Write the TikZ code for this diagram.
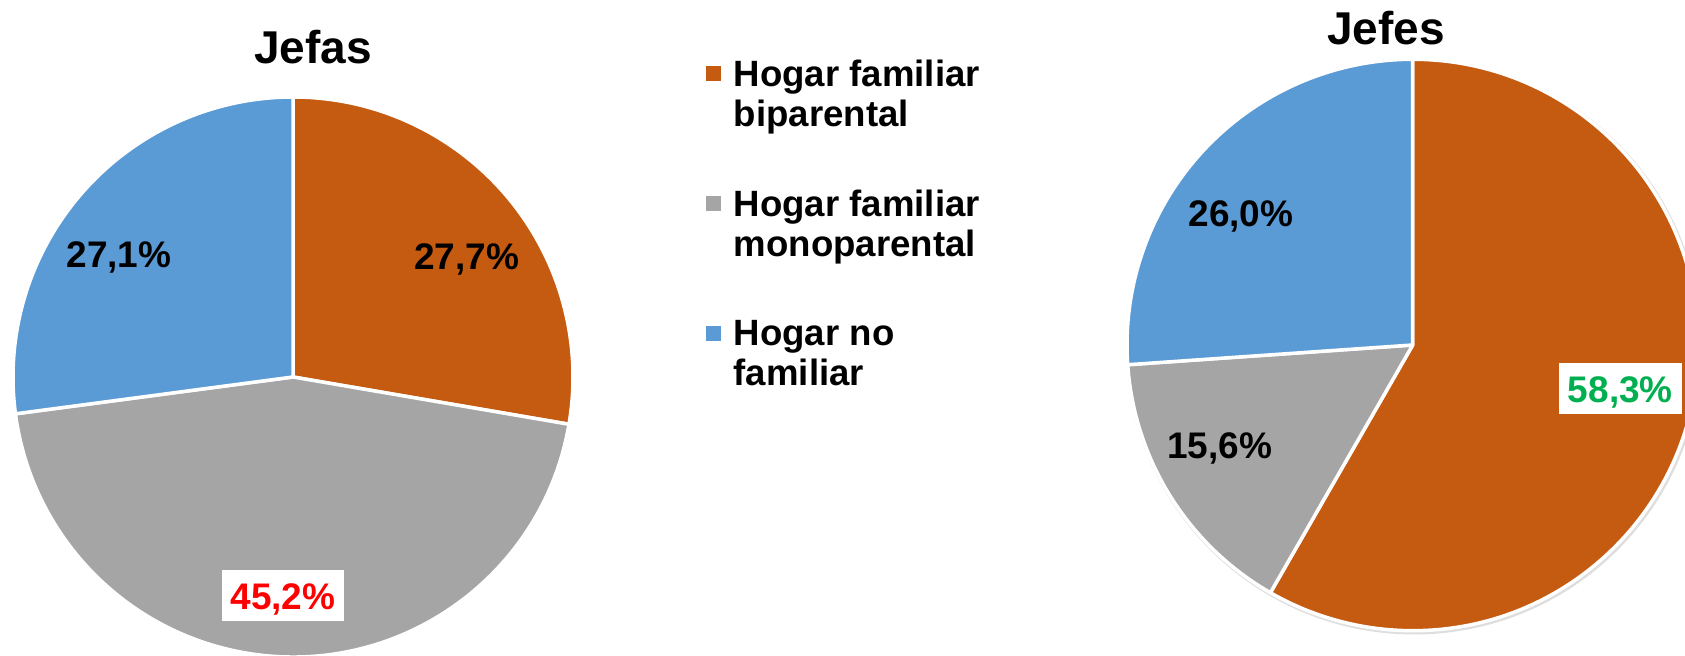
\documentclass[tikz,border=0pt]{standalone}
\usepackage{fontspec}
\setmainfont{Liberation Sans}
\usepackage{xcolor}
\usetikzlibrary{positioning}
\definecolor{sliceorange}{RGB}{197,90,17}
\definecolor{slicegray}{RGB}{165,165,165}
\definecolor{sliceblue}{RGB}{91,155,213}
\definecolor{labred}{RGB}{255,0,0}
\definecolor{labgreen}{RGB}{0,176,80}
\definecolor{shadowgray}{RGB}{222,222,222}
\tikzset{
  % titulo de cada torta
  charttitle/.style={font=\fontsize{23}{26}\selectfont\bfseries, anchor=base, inner sep=0pt},
  % porcentajes dentro de la torta
  pct/.style={font=\fontsize{18.5}{20}\selectfont\bfseries, anchor=base, inner sep=0pt},
  % porcentaje destacado (caja blanca)
  pctbox/.style={pct, fill=white, text height=14.4pt, text depth=0pt,
    inner xsep=4.45pt, inner ysep=5.5pt},
  % tajada
  slice/.style={fill=#1, draw=white, line width=1.75pt, line join=round},
  % leyenda
  legsq/.style={fill=#1, minimum size=7.5pt, inner sep=0pt},
  legtxt/.style={font=\fontsize{18.3}{20}\selectfont\bfseries, align=left, inner sep=0pt},
}
\begin{document}
\begin{tikzpicture}[x=0.5pt, y=0.5pt]
  \useasboundingbox (0,0) rectangle (1685,656);
  \begin{scope}
    \clip (0,0) rectangle (1685,656);

    % Jefas
    \coordinate (cfem) at (293,279);
    \foreach \a/\b/\c in {90/-9.72/sliceorange, -9.72/-172.44/slicegray, -172.44/-270/sliceblue} {
      \filldraw[slice=\c] (cfem) -- ++(\a:280) arc[start angle=\a, end angle=\b, radius=280] -- cycle;
    }

    % Jefes
    \coordinate (cmasc) at (1412.7,311);
    \fill[shadowgray] (1414,309.5) circle[radius=288];
    \foreach \a/\b/\c in {90/-119.88/sliceorange, -119.88/-176.04/slicegray, -176.04/-270/sliceblue} {
      \filldraw[slice=\c] (cmasc) -- ++(\a:285.7) arc[start angle=\a, end angle=\b, radius=285.7] -- cycle;
    }
  \end{scope}

  % Titulos
  \node[charttitle] (jefas) at (313,592) {Jefas};
  \node[charttitle] (jefes) at (1386,611) {Jefes};

  % Porcentajes
  \node[pct] (noFamFem) at (119,388.3) {27,1\%};
  \node[pct] (biparFem) at (466.5,386.7) {27,7\%};
  \node[pctbox, text=labred] (monoFem) at (283,46) {45,2\%};
  \node[pct] (noFamMasc) at (1241,429.3) {26,0\%};
  \node[pct] (monoMasc) at (1219.5,197.7) {15,6\%};
  \node[pctbox, text=labgreen] (biparMasc) at (1620.3,253.3) {58,3\%};

  % Leyenda
  \node[legsq=sliceorange] (sqBipar) at (713.5,582.5) {};
  \node[legsq=slicegray] (sqMono) at (713.5,452.5) {};
  \node[legsq=sliceblue] (sqNoFam) at (713.5,322.5) {};
  \node[legtxt, right=6pt of sqBipar.east, anchor=north west, yshift=6.75pt] (legBipar) {Hogar familiar\\biparental};
  \node[legtxt, right=6pt of sqMono.east, anchor=north west, yshift=6.75pt] (legMono) {Hogar familiar\\monoparental};
  \node[legtxt, right=6pt of sqNoFam.east, anchor=north west, yshift=6.75pt] (legNoFam) {Hogar no\\familiar};
\end{tikzpicture}
\end{document}
